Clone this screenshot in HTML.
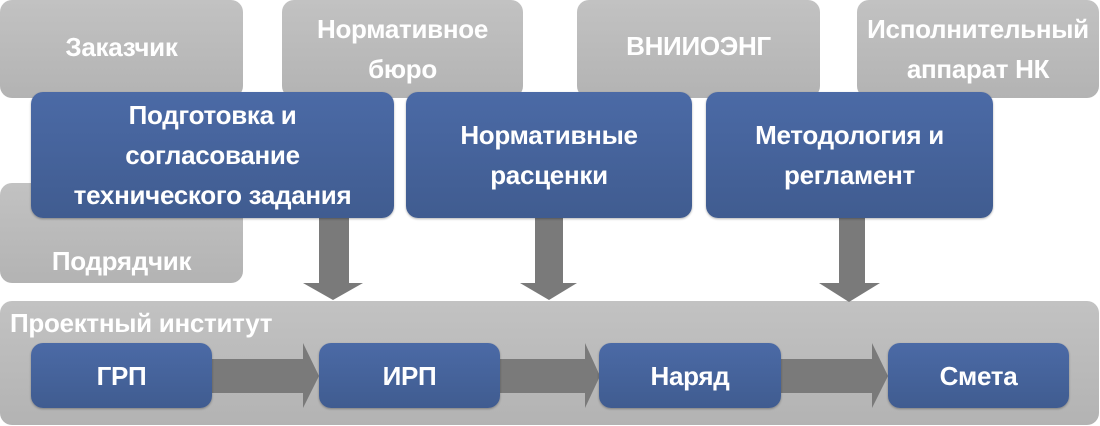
<!DOCTYPE html>
<html><head><meta charset="utf-8"><style>
body{margin:0;width:1100px;height:426px;background:#fff;position:relative;overflow:hidden;font-family:"Liberation Sans","DejaVu Sans",sans-serif;font-weight:bold;color:#fff}
.g,.b{position:absolute;border-radius:12px;display:flex;align-items:center;justify-content:center;text-align:center;box-sizing:border-box;white-space:nowrap}
.g{background:linear-gradient(#c2c2c2,#b3b3b3);font-size:26px;line-height:40px;letter-spacing:-0.3px}
.b{background:linear-gradient(#4b6aa6,#405c90);font-size:26px;line-height:40px;letter-spacing:-0.3px;box-shadow:0 1px 2px rgba(0,0,0,.3)}
svg{position:absolute;left:0;top:0}
</style></head><body>
<div class="g" style="left:0;top:0;width:243px;height:98px;padding-bottom:4px">Заказчик</div>
<div class="g" style="left:282px;top:0;width:241px;height:98px;align-items:flex-start;padding-top:9px">Нормативное<br>бюро</div>
<div class="g" style="left:577px;top:0;width:243px;height:98px;align-items:flex-start;padding-top:26px">ВНИИОЭНГ</div>
<div class="g" style="left:857px;top:0;width:242px;height:98px;align-items:flex-start;padding-top:9px">Исполнительный<br>аппарат НК</div>
<div class="g" style="left:0;top:183px;width:243px;height:100px;align-items:flex-end;padding-bottom:2px">Подрядчик</div>
<div class="g" style="left:0;top:301px;width:1099px;height:124px"></div>
<div style="position:absolute;left:10px;top:308px;font-size:26px;letter-spacing:-0.3px;color:#fff">Проектный институт</div>
<svg width="1100" height="426">
<g fill="#7a7a7a">
<polygon points="319,218 349,218 349,283 363,283 333,300 303,283 319,283"/>
<polygon points="535,218 563,218 563,283 577,283 549,300 520,283 535,283"/>
<polygon points="839,218 865,218 865,283 880,283 849,302 819,283 839,283"/>
<polygon points="210,359 303,359 303,343 319,376 303,408 303,393 210,393"/>
<polygon points="498,359 585,359 585,343 600,376 585,408 585,393 498,393"/>
<polygon points="779,359 872,359 872,343 888,376 872,408 872,393 779,393"/>
</g></svg>
<div class="b" style="left:31px;top:92px;width:363px;height:126px">Подготовка и<br>согласование<br>технического задания</div>
<div class="b" style="left:406px;top:92px;width:286px;height:126px">Нормативные<br>расценки</div>
<div class="b" style="left:706px;top:92px;width:287px;height:126px">Методология и<br>регламент</div>
<div class="b" style="left:31px;top:343px;width:181px;height:65px">ГРП</div>
<div class="b" style="left:319px;top:343px;width:181px;height:65px">ИРП</div>
<div class="b" style="left:599px;top:343px;width:182px;height:65px">Наряд</div>
<div class="b" style="left:888px;top:343px;width:181px;height:65px">Смета</div>
</body></html>
